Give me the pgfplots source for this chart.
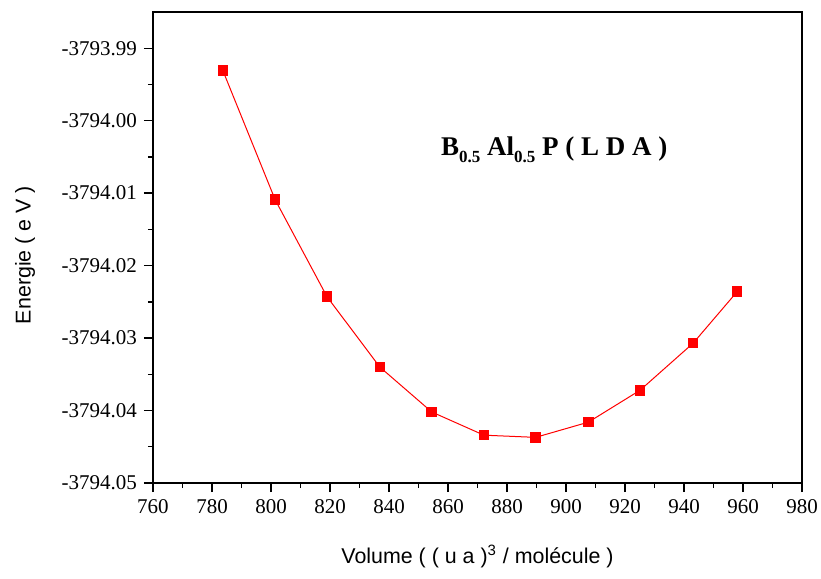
\documentclass[border=0pt]{standalone}
\usepackage{fontspec}
\setmainfont{Liberation Serif}
\newfontfamily\arialfont{Liberation Sans}
\usepackage{pgfplots}
\pgfplotsset{compat=1.18}
\usepackage{pgfplotstable}
% y stored as E + 3794 (eV)
\pgfplotstableread{
V      dE
783.7  0.0069
801.4 -0.0109
819.0 -0.0243
836.9 -0.0340
854.5 -0.0402
872.2 -0.0434
889.7 -0.0437
907.6 -0.0416
925.1 -0.0372
943.1 -0.0307
958.0 -0.0236
}\datatable
\begin{document}
\begin{tikzpicture}
\begin{axis}[
  name=ax,
  scale only axis,
  width=324.5pt, height=235.5pt,
  xmin=760, xmax=980,
  ymin=-0.05, ymax=0.015,
  scaled ticks=false,
  xtick={760,780,...,980},
  minor x tick num=1,
  ytick={0.01,0,-0.01,-0.02,-0.03,-0.04,-0.05},
  yticklabels={-3793.99,-3794.00,-3794.01,-3794.02,-3794.03,-3794.04,-3794.05},
  minor y tick num=1,
  tick pos=left,
  tick align=outside,
  major tick length=4.5pt,
  minor tick length=2.5pt,
  every tick/.style={black, line width=0.7pt},
  axis line style={line width=0.7pt},
  /pgf/number format/assume math mode=true,
  xticklabel style={font=\fontsize{10.5}{12}\selectfont, /pgf/number format/1000 sep={}},
  yticklabel style={font=\fontsize{10.5}{12}\selectfont},
  xlabel={Volume ( ( u a )\textsuperscript{3} / molécule )},
  ylabel={Energie ( e V )},
  xlabel style={font=\arialfont\fontsize{10.7}{13}\selectfont, at={(axis description cs:0.5,-0.157)}, anchor=center},
  ylabel style={font=\arialfont\fontsize{10.7}{13}\selectfont, at={(axis description cs:-0.197,0.484)}, anchor=center},
]
\addplot[red, line width=0.5pt, mark=square*, mark size=2.4pt, mark options={fill=red, draw=red}]
  table[x=V, y=dE] {\datatable};
\node[font=\bfseries\fontsize{13.5}{15}\selectfont, anchor=center] at (axis cs:896,-0.0040)
  {B\raisebox{-0.55ex}{\fontsize{8.5}{9}\selectfont 0.5} Al\raisebox{-0.55ex}{\fontsize{8.5}{9}\selectfont 0.5} P ( L D A )};
\end{axis}
\pgfresetboundingbox
\path ([shift={(-76.5pt,-47.5pt)}]ax.south west) rectangle ([shift={(9.5pt,6pt)}]ax.north east);
\end{tikzpicture}
\end{document}
